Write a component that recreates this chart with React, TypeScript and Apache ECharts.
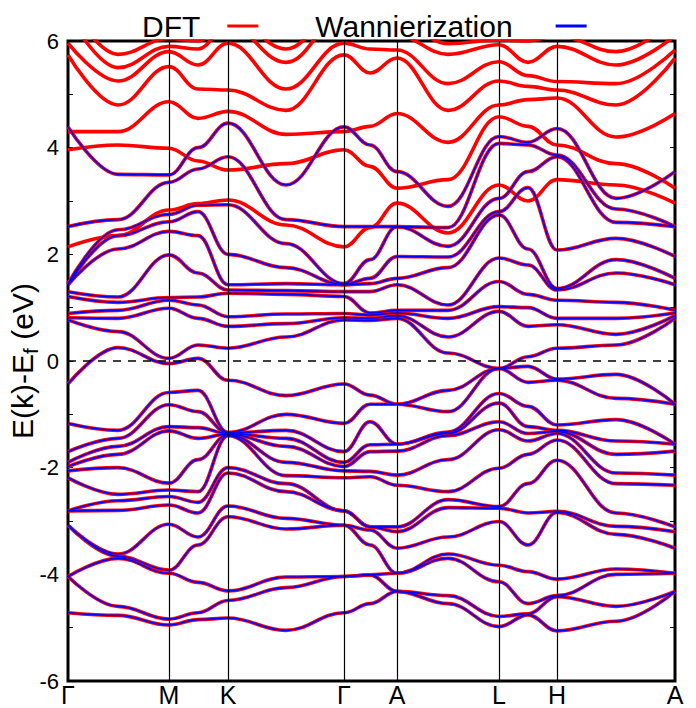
import React, { useEffect, useRef } from "react";
import * as echarts from "echarts";

const FONT = '"Liberation Sans", Arial, Helvetica, sans-serif';

// k-path coordinates (arbitrary units) of the sampled columns
const kPath = [0, 50, 101, 130, 160, 218, 276, 302, 329, 380, 431, 460, 489, 548, 607];
// high-symmetry points
const symPos = [0, 101, 160, 276, 329, 431, 489, 607];
const symLabels = ["Γ", "M", "K", "Γ", "A", "L", "H", "A"];

// Wannier-interpolated bands (eV), sorted, one array per k column
const wannierG = [-4.72, -4.04, -4.04, -3.08, -3.08, -2.81, -2.81, -2.19, -2.06, -1.98, -1.9, -1.7, -1.17, -0.43, 0.77, 0.81, 0.89, 1.21, 1.3, 1.43, 1.43, 1.45, 2.52, 4.39];
const wannierGM = [-4.77, -4.6, -3.7, -3.66, -3.62, -2.8, -2.62, -2.5, -2.0, -1.75, -1.6, -1.45, -1.3, 0.25, 0.55, 0.8, 0.95, 1.1, 1.2, 2.1, 2.35, 2.46, 2.65, 3.5];
const wannierM = [-4.95, -4.84, -3.98, -3.92, -3.06, -2.7, -2.54, -2.42, -2.29, -1.31, -1.23, -0.82, -0.59, -0.05, 0.05, 0.99, 1.14, 1.19, 1.99, 2.43, 2.61, 2.75, 3.35, 3.49];
const wannierMK = [-4.85, -4.72, -4.15, -3.45, -3.3, -2.85, -2.65, -2.45, -1.85, -1.45, -1.25, -0.95, -0.55, 0.05, 0.3, 0.8, 1.05, 1.2, 1.65, 2.35, 2.8, 2.92, 3.6, 4.0];
const wannierK = [-4.82, -4.49, -4.31, -2.92, -2.72, -2.1, -2.0, -1.4, -1.38, -1.37, -1.36, -1.35, -1.34, -0.36, 0.24, 0.65, 0.83, 1.27, 1.33, 1.43, 2.0, 2.93, 3.83, 4.46];
const wannierKG = [-5.05, -4.25, -4.05, -3.15, -2.95, -2.45, -2.3, -2.15, -1.9, -1.6, -1.45, -1.3, -1.0, -0.65, 0.45, 0.7, 0.88, 1.25, 1.32, 1.45, 1.75, 2.2, 2.65, 3.3];
const wannierGA = [-4.55, -4.01, -4.01, -3.45, -3.17, -3.11, -3.11, -2.17, -2.07, -1.7, -1.57, -1.14, -0.81, -0.64, 0.76, 0.8, 0.86, 0.9, 1.3, 1.45, 1.55, 1.9, 2.52, 4.05];
const wannierA = [-4.32, -4.32, -3.98, -3.98, -3.51, -3.2, -3.11, -2.33, -2.14, -1.69, -1.56, -1.56, -0.81, -0.81, 0.8, 0.85, 0.9, 0.95, 1.43, 1.55, 1.96, 2.52, 2.52, 3.55];
const wannierAL = [-4.55, -4.4, -3.7, -3.62, -3.3, -2.75, -2.6, -2.45, -1.85, -1.4, -1.36, -1.33, -0.95, -0.55, 0.15, 0.45, 0.8, 0.95, 1.05, 1.75, 1.95, 2.15, 2.5, 2.9];
const wannierL = [-4.98, -4.79, -4.14, -3.83, -3.01, -2.76, -2.73, -2.01, -1.29, -1.14, -0.79, -0.61, -0.14, -0.14, -0.14, 0.93, 1.02, 1.49, 1.93, 2.74, 2.8, 3.05, 4.08, 4.21];
const wannierLH = [-4.76, -4.74, -4.55, -3.95, -3.45, -2.85, -2.3, -1.75, -1.5, -1.36, -1.23, -0.85, -0.4, -0.1, 0.08, 0.65, 1.0, 1.25, 1.8, 2.1, 3.25, 3.55, 4.05, 4.1];
const wannierH = [-5.06, -4.42, -4.4, -4.09, -2.84, -2.82, -1.86, -1.48, -1.36, -1.32, -1.3, -1.2, -0.36, -0.34, 0.24, 0.68, 0.8, 1.14, 1.33, 1.36, 2.08, 3.83, 3.86, 4.36];
const wannierHA = [-4.88, -4.6, -4.0, -3.9, -3.25, -3.1, -2.85, -2.3, -2.1, -1.75, -1.5, -1.1, -0.7, -0.25, 0.3, 0.5, 0.8, 1.1, 1.65, 1.9, 2.3, 2.6, 2.85, 3.05];

// DFT-only (higher) bands (eV), one array per k column
const dftG = [2.14, 3.96, 4.3, 5.74, 5.96, 6.5, 6.7];
const dftGM = [2.35, 4.05, 4.3, 4.8, 5.25, 5.5, 5.75];
const dftM = [2.83, 3.99, 4.86, 5.52, 5.8, 5.9, 6.05];
const dftMK = [2.95, 3.75, 4.55, 5.1, 5.55, 5.85, 6.0];
const dftK = [3.02, 3.58, 4.68, 5.08, 5.96, 6.3, 6.5];
const dftKG = [2.55, 3.7, 4.25, 4.7, 5.1, 5.6, 5.85];
const dftGA = [2.5, 3.65, 4.4, 5.4, 5.85, 6.1, 6.5];
const dftA = [2.96, 3.24, 4.64, 5.68, 5.83, 6.1, 6.4];
const dftAL = [2.4, 3.4, 4.1, 4.7, 5.2, 5.75, 5.95];
const dftL = [3.3, 4.58, 4.8, 5.25, 5.61, 5.93, 6.02];
const dftLH = [3.0, 4.4, 4.9, 5.15, 5.35, 5.6, 6.0];
const dftH = [3.4, 4.05, 4.93, 5.08, 5.24, 5.9, 6.1];
const dftHA = [3.3, 3.7, 4.2, 4.8, 5.2, 5.55, 5.8];

const wannierCols = [wannierG, wannierGM, wannierM, wannierMK, wannierK, wannierKG, wannierG, wannierGA, wannierA, wannierAL, wannierL, wannierLH, wannierH, wannierHA, wannierA];
const dftCols = [dftG, dftGM, dftM, dftMK, dftK, dftKG, dftG, dftGA, dftA, dftAL, dftL, dftLH, dftH, dftHA, dftA];

function band(cols: number[][], b: number) {
  return cols.map((c, i) => [kPath[i], c[b]]);
}

export default function App() {
  const ref = useRef<HTMLDivElement>(null);
  useEffect(() => {
    const chart = echarts.init(ref.current!, null, { renderer: "svg" });
    const series: any[] = [];
    series.push({
      type: "line",
      data: [],
      silent: true,
      z: 1,
      markLine: {
        symbol: ["none", "none"],
        silent: true,
        animation: false,
        label: { show: false },
        data: [
          ...symPos.slice(1, -1).map((v) => ({ xAxis: v, lineStyle: { color: "#000", width: 1.2, type: "solid" } })),
          { yAxis: 0, lineStyle: { color: "#000", width: 1.6, type: [8, 7] } },
        ],
      },
    });
    const line = (name: string, color: string, width: number, z: number, data: number[][]) => ({
      type: "line",
      name,
      data,
      z,
      smooth: 0.4,
      smoothMonotone: "x",
      showSymbol: false,
      symbol: "none",
      silent: true,
      itemStyle: { color },
      lineStyle: { color, width },
    });
    for (let b = 0; b < wannierG.length; b++) series.push(line("DFT", "#ff0000", 3.6, 2, band(wannierCols, b)));
    for (let b = 0; b < dftG.length; b++) series.push(line("DFT", "#ff0000", 3.6, 2, band(dftCols, b)));
    for (let b = 0; b < wannierG.length; b++) series.push(line("Wannierization", "#0000ff", 1.6, 3, band(wannierCols, b)));

    const option: any = {
      animation: false,
      backgroundColor: "#fff",
      textStyle: { fontFamily: FONT },
      legend: {
        left: 137,
        top: 6,
        width: 600,
        itemWidth: 31,
        itemHeight: 3,
        itemGap: 57,
        align: "right",
        icon: "rect",
        selectedMode: false,
        textStyle: { fontSize: 30, color: "#000", fontFamily: FONT },
        data: [
          { name: "DFT", textStyle: { fontSize: 30, color: "#000", fontFamily: FONT, padding: [0, 22, 0, 0] } },
          { name: "Wannierization", textStyle: { fontSize: 30, color: "#000", fontFamily: FONT, padding: [0, 38, 0, 0] } },
        ],
      },
      grid: {
        left: 68,
        right: 21,
        top: 41,
        bottom: 27,
        containLabel: false,
        outerBoundsMode: "none",
        show: true,
        borderColor: "#000",
        borderWidth: 3,
        backgroundColor: "transparent",
      },
      xAxis: {
        type: "value",
        min: 0,
        max: 607,
        axisLine: { show: false },
        axisTick: { show: false },
        splitLine: { show: false },
        axisLabel: {
          customValues: symPos,
          formatter: (v: number) => symLabels[symPos.indexOf(v)] ?? "",
          fontSize: 25,
          color: "#000",
          margin: 1,
          fontFamily: FONT,
        },
      },
      yAxis: [
        {
          type: "value",
          min: -6,
          max: 6,
          interval: 2,
          position: "left",
          axisLine: { show: false },
          axisTick: { show: true, inside: true, length: 5, lineStyle: { color: "#000" } },
          minorTick: { show: true, splitNumber: 2, length: 5, lineStyle: { color: "#000" } },
          splitLine: { show: false },
          axisLabel: { fontSize: 22, color: "#000", margin: 9, fontFamily: FONT },
          name: "{a|E(k)-E}{s|f}{a| (eV)}",
          nameLocation: "middle",
          nameGap: 27,
          nameMoveOverlap: false,
          nameRotate: 90,
          nameTextStyle: {
            fontSize: 30,
            color: "#000",
            fontFamily: FONT,
            rich: {
              a: { fontSize: 30, fontFamily: FONT, color: "#000", lineHeight: 34, verticalAlign: "top" },
              s: { fontSize: 21, fontFamily: FONT, color: "#000", lineHeight: 22, verticalAlign: "bottom" },
            },
          },
        },
        {
          type: "value",
          min: -6,
          max: 6,
          interval: 2,
          position: "right",
          axisLine: { show: false },
          axisTick: { show: true, inside: true, length: 5, lineStyle: { color: "#000" } },
          minorTick: { show: true, splitNumber: 2, length: 5, lineStyle: { color: "#000" } },
          splitLine: { show: false },
          axisLabel: { show: false },
        },
      ],
      series,
    };
    chart.setOption(option);
    return () => chart.dispose();
  }, []);
  return <div ref={ref} style={{ position: "absolute", left: 0, top: 0, width: 696, height: 708 }} />;
}
